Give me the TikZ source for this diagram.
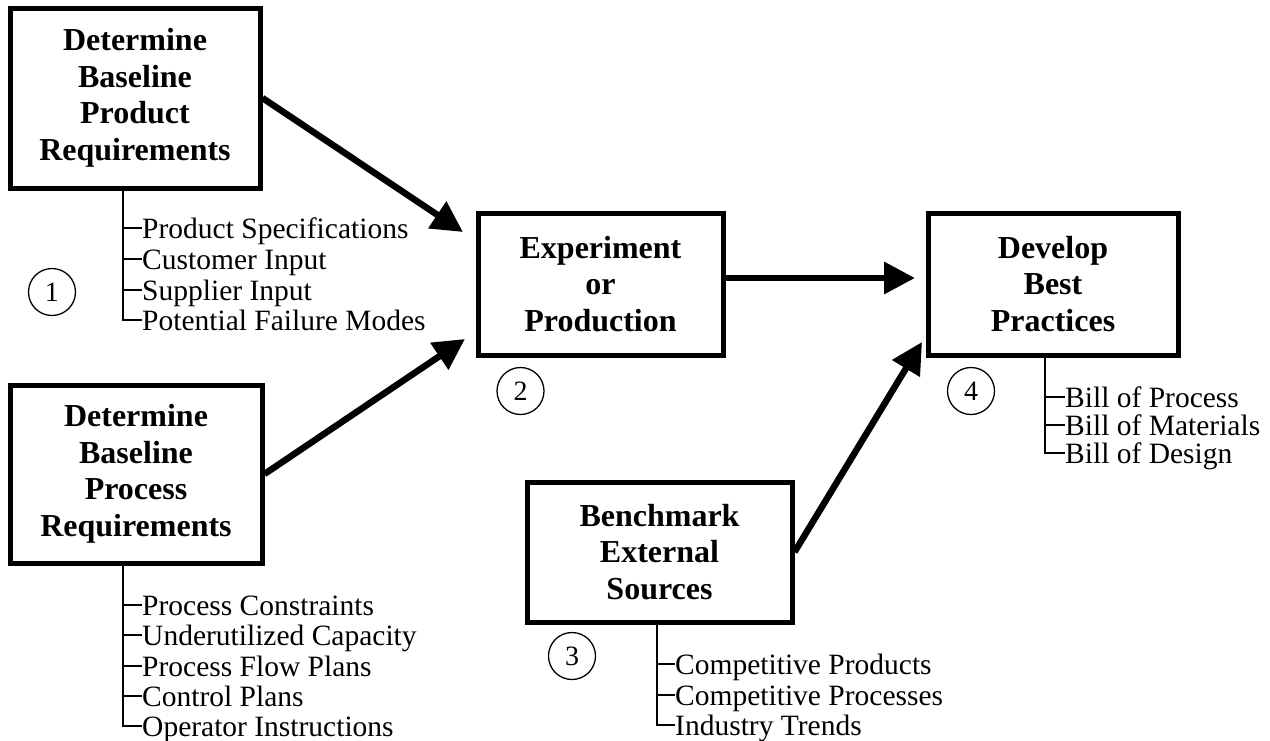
\documentclass[tikz,border=0pt]{standalone}
\usepackage{fontspec}
\setmainfont{Liberation Serif}
\usetikzlibrary{arrows.meta}
\begin{document}
\begin{tikzpicture}[x=1pt,y=-1pt,
  stepbox/.style={draw, line width=5pt, inner sep=0pt, align=center,
    font=\fontsize{32}{36.5}\selectfont\bfseries},
  flow/.style={line width=6.5pt, -{Triangle[length=31pt,width=31pt]}},
  branch/.style={line width=1.3pt},
  item/.style={anchor=west, inner sep=0pt, text height=20pt, text depth=0pt,
    font=\fontsize{29.5}{30}\selectfont},
  num/.style={circle, draw, line width=1.3pt, minimum size=47pt, inner sep=0pt,
    font=\fontsize{28}{28}\selectfont}]
\useasboundingbox (0,0) rectangle (1270,740);

% main process boxes
\node[stepbox, minimum width=250pt, minimum height=180pt] (b1) at (135,98)
  {Determine\\Baseline\\Product\\Requirements};
\node[stepbox, minimum width=252pt, minimum height=178pt] (b2) at (136,474)
  {Determine\\Baseline\\Process\\Requirements};
\node[stepbox, minimum width=245pt, minimum height=142pt] (exp) at (600.5,284)
  {Experiment\\or\\Production};
\node[stepbox, minimum width=250pt, minimum height=142pt] (dev) at (1053,284)
  {Develop\\Best\\Practices};
\node[stepbox, minimum width=265pt, minimum height=140pt] (bench) at (659.5,552)
  {Benchmark\\External\\Sources};

% step numbers
\node[num] (n1) at (52,292) {1};
\node[num] (n2) at (520.5,391) {2};
\node[num] (n3) at (572,656) {3};
\node[num] (n4) at (971,391) {4};

% arrow tips
\coordinate (t1) at (463,232);
\coordinate (t2) at (465,339);
\coordinate (t3) at (915,278);
\coordinate (t4) at (922,342);

\draw[flow] (b1.east) -- (t1);
\draw[flow] (b2.east) -- (t2);
\draw[flow] (exp.east |- t3) -- (t3);
\draw[flow] (bench.east) -- (t4);

% detail list under box 1
\path (b1.south) ++(-12,0) coordinate (s1);
\node[item] (i11) at (142,228) {Product Specifications};
\node[item] (i12) at (142,259) {Customer Input};
\node[item] (i13) at (142,290) {Supplier Input};
\node[item] (i14) at (142,320) {Potential Failure Modes};
\draw[branch] (s1) |- (i14.west);
\foreach \i in {i11,i12,i13} \draw[branch] (s1 |- \i.west) -- (\i.west);

% detail list under box 2
\path (b2.south) ++(-13,0) coordinate (s2);
\node[item] (i21) at (142,605) {Process Constraints};
\node[item] (i22) at (142,635) {Underutilized Capacity};
\node[item] (i23) at (142,666) {Process Flow Plans};
\node[item] (i24) at (142,696) {Control Plans};
\node[item] (i25) at (142,726) {Operator Instructions};
\draw[branch] (s2) |- (i25.west);
\foreach \i in {i21,i22,i23,i24} \draw[branch] (s2 |- \i.west) -- (\i.west);

% detail list under benchmark box
\path (bench.south) ++(-2.5,0) coordinate (s3);
\node[item] (i31) at (675,664) {Competitive Products};
\node[item] (i32) at (675,695) {Competitive Processes};
\node[item] (i33) at (675,725) {Industry Trends};
\draw[branch] (s3) |- (i33.west);
\foreach \i in {i31,i32} \draw[branch] (s3 |- \i.west) -- (\i.west);

% detail list under best-practices box
\path (dev.south) ++(-8,0) coordinate (s4);
\node[item] (i41) at (1065,397) {Bill of Process};
\node[item] (i42) at (1065,425) {Bill of Materials};
\node[item] (i43) at (1065,453) {Bill of Design};
\draw[branch] (s4) |- (i43.west);
\foreach \i in {i41,i42} \draw[branch] (s4 |- \i.west) -- (\i.west);
\end{tikzpicture}
\end{document}
